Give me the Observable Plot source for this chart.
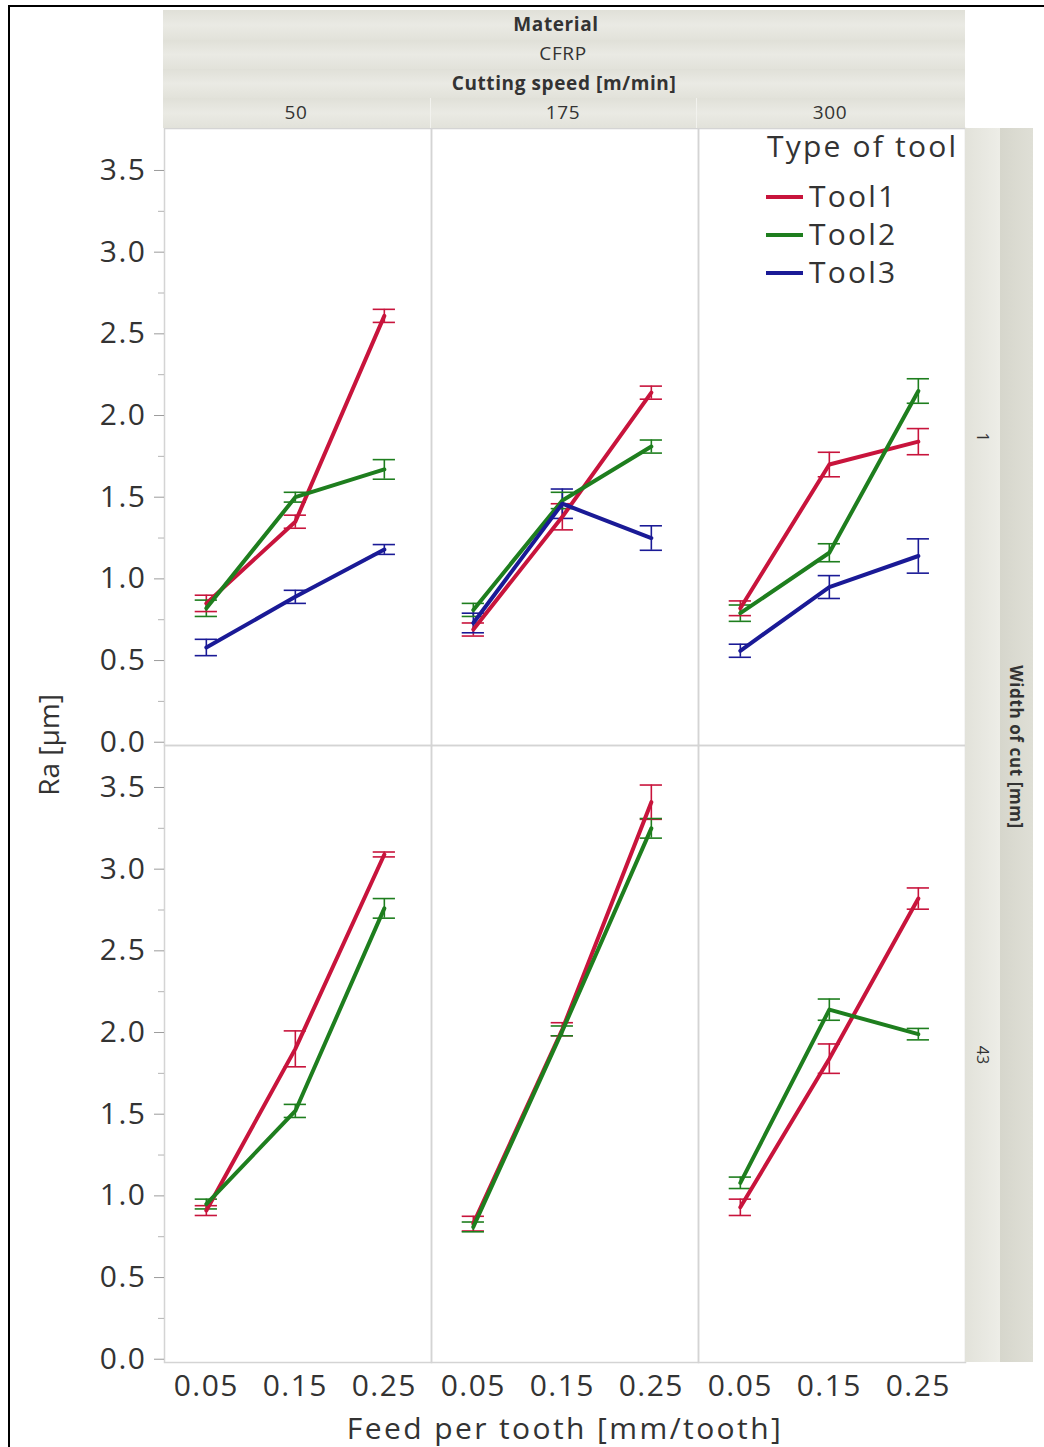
<!DOCTYPE html>
<html><head><meta charset="utf-8">
<script src="https://cdn.jsdelivr.net/npm/d3@7"></script>
<script src="https://cdn.jsdelivr.net/npm/@observablehq/plot@0.6"></script>
<style>
body{margin:0;background:#fff;font-family:"Open Sans",sans-serif;}
#wrap{position:relative;width:1044px;height:1447px;overflow:hidden;background:#fff;}
#wrap svg{position:absolute;left:0;top:0;}
#wrap svg text{letter-spacing:1.5px;}
.ov{position:absolute;color:#333;white-space:nowrap;}
.band{position:absolute;left:163px;width:802px;background:linear-gradient(to bottom,#e0e0d8,#eaeae4 50%,#e2e2da);}
.hdr{position:absolute;font-size:19px;line-height:20px;transform:translate(-50%,-50%);color:#333;white-space:nowrap;letter-spacing:0.6px;}
.rot{position:absolute;transform:translate(-50%,-50%) rotate(90deg);white-space:nowrap;color:#333;}
.leg{position:absolute;font-size:30px;line-height:32px;color:#333;white-space:nowrap;letter-spacing:2.2px;}
.sw{position:absolute;width:37px;height:4px;}
</style></head><body><div id="wrap"></div><script>
const speeds = [50, 175, 300];
const widths = [1, 43];
const feeds = [0.05, 0.15, 0.25];
const tools = ["Tool1", "Tool2", "Tool3"];
const toolColors = ["#c8143c", "#1e7e1e", "#1a1a96"];
const yTicks = [0, 0.5, 1, 1.5, 2, 2.5, 3, 3.5];
const yMinorTicks = [0.25, 0.75, 1.25, 1.75, 2.25, 2.75, 3.25];
// Mean Ra [µm]; panel order: width 1 (speed 50,175,300), width 43 (speed 50,175,300); values for feed 0.05,0.15,0.25
const tool1Ra  = [[0.85,1.35,2.61],[0.69,1.38,2.14],[0.82,1.70,1.84],[0.91,1.90,3.09],[0.83,2.02,3.41],[0.93,1.84,2.82]];
const tool1Err = [[0.05,0.04,0.04],[0.04,0.08,0.04],[0.045,0.075,0.08],[0.03,0.11,0.015],[0.045,0.04,0.105],[0.05,0.09,0.065]];
const tool2Ra  = [[0.82,1.50,1.67],[0.81,1.48,1.81],[0.79,1.16,2.15],[0.95,1.52,2.76],[0.81,2.01,3.25],[1.08,2.14,1.99]];
const tool2Err = [[0.05,0.03,0.06],[0.04,0.05,0.04],[0.05,0.055,0.075],[0.03,0.04,0.06],[0.03,0.03,0.06],[0.035,0.065,0.035]];
const tool3Ra  = [[0.58,0.89,1.18],[0.73,1.46,1.25],[0.56,0.95,1.14]];
const tool3Err = [[0.05,0.04,0.03],[0.06,0.09,0.075],[0.04,0.07,0.105]];

const series = [[tool1Ra, tool1Err], [tool2Ra, tool2Err], [tool3Ra, tool3Err]];
const rows = [];
series.forEach(([ra, err], t) => {
  ra.forEach((vals, p) => {
    vals.forEach((v, k) => {
      rows.push({tool: tools[t], width: widths[Math.floor(p / 3)], speed: speeds[p % 3],
                 feed: feeds[k], ra: v, lo: v - err[p][k], hi: v + err[p][k]});
    });
  });
});
const capHalf = 0.0125;
const fmt1 = d => d.toFixed(1);
const fmt2 = d => d.toFixed(2);

const plot = Plot.plot({
  width: 1044, height: 1447,
  marginLeft: 163, marginRight: 79, marginTop: 128, marginBottom: 85,
  style: {fontFamily: '"Open Sans", sans-serif', fontSize: "30px", color: "#333", background: "transparent", overflow: "visible"},
  x: {domain: [0.003, 0.303]},
  y: {domain: [-0.02, 3.757]},
  fx: {domain: speeds, padding: 0, axis: null},
  fy: {domain: widths, padding: 0, axis: null},
  color: {domain: tools, range: toolColors},
  marks: [
    Plot.frame({stroke: "#d4d4d4", strokeWidth: 1.5}),
    Plot.axisY({ticks: yTicks, tickSize: 10, tickPadding: 8, tickFormat: fmt1, label: null, stroke: "#9c9c9c", fill: "#333", fontSize: 30}),
    Plot.axisY({ticks: yMinorTicks, tickSize: 6, text: null, label: null, stroke: "#b4b4b4"}),
    Plot.axisX({ticks: feeds, tickSize: 0, tickPadding: 12, tickFormat: fmt2, label: null, fill: "#333", fontSize: 30}),
    Plot.ruleX(rows, {fx: "speed", fy: "width", x: "feed", y1: "lo", y2: "hi", stroke: "tool", strokeWidth: 1.6}),
    Plot.ruleY(rows, {fx: "speed", fy: "width", y: "lo", x1: d => d.feed - capHalf, x2: d => d.feed + capHalf, stroke: "tool", strokeWidth: 1.6}),
    Plot.ruleY(rows, {fx: "speed", fy: "width", y: "hi", x1: d => d.feed - capHalf, x2: d => d.feed + capHalf, stroke: "tool", strokeWidth: 1.6}),
    Plot.line(rows, {fx: "speed", fy: "width", x: "feed", y: "ra", stroke: "tool", z: "tool", strokeWidth: 4})
  ]
});

const wrap = document.getElementById("wrap");
wrap.appendChild(plot);

function add(html) { wrap.insertAdjacentHTML("beforeend", html); }
// border
add('<div style="position:absolute;left:8px;top:5px;width:1036px;height:2px;background:#000"></div>');
add('<div style="position:absolute;left:8px;top:5px;width:2px;height:1442px;background:#000"></div>');
// header bands
[[10,30],[40,29],[69,29],[98,30]].forEach(([t,h]) => add(`<div class="band" style="top:${t}px;height:${h}px"></div>`));
add('<div style="position:absolute;left:430px;top:98px;width:1px;height:30px;background:#f2f2ee"></div>');
add('<div style="position:absolute;left:696px;top:98px;width:1px;height:30px;background:#f2f2ee"></div>');
add('<div class="hdr" style="left:556px;top:24px;font-weight:bold">Material</div>');
add('<div class="hdr" style="left:563px;top:53px">CFRP</div>');
add('<div class="hdr" style="left:564px;top:83px;font-weight:bold">Cutting speed [m/min]</div>');
const colCenters = [296, 563, 830];
speeds.forEach((s, i) => add(`<div class="hdr" style="left:${colCenters[i]}px;top:112px">${s}</div>`));
// right strip
add('<div style="position:absolute;left:965px;top:128px;width:35px;height:1234px;background:linear-gradient(to right,#e2e2da,#ededE7)"></div>');
add('<div style="position:absolute;left:1000px;top:128px;width:33px;height:1234px;background:linear-gradient(to right,#d6d6cc,#dfdfd6)"></div>');
const rowCenters = [437, 1055];
widths.forEach((w, i) => add(`<div class="rot" style="left:983px;top:${rowCenters[i]}px;font-size:16px">${w}</div>`));
add('<div class="rot" style="left:1016px;top:747px;font-size:17px;font-weight:bold;letter-spacing:0.6px">Width of cut [mm]</div>');
// axis labels
add('<div class="ov" style="left:48px;top:745px;font-size:28px;transform:translate(-50%,-50%) rotate(-90deg)">Ra [µm]</div>');
add('<div class="ov" style="left:565px;top:1427px;font-size:30px;letter-spacing:2.4px;transform:translate(-50%,-50%)">Feed per tooth [mm/tooth]</div>');
// legend
add('<div class="leg" style="left:767px;top:130px">Type of tool</div>');
tools.forEach((t, i) => {
  const y = 197 + i * 38;
  add(`<div class="sw" style="left:766px;top:${y-2}px;background:${toolColors[i]}"></div>`);
  add(`<div class="leg" style="left:809px;top:${y-17}px">${t}</div>`);
});
</script></body></html>
